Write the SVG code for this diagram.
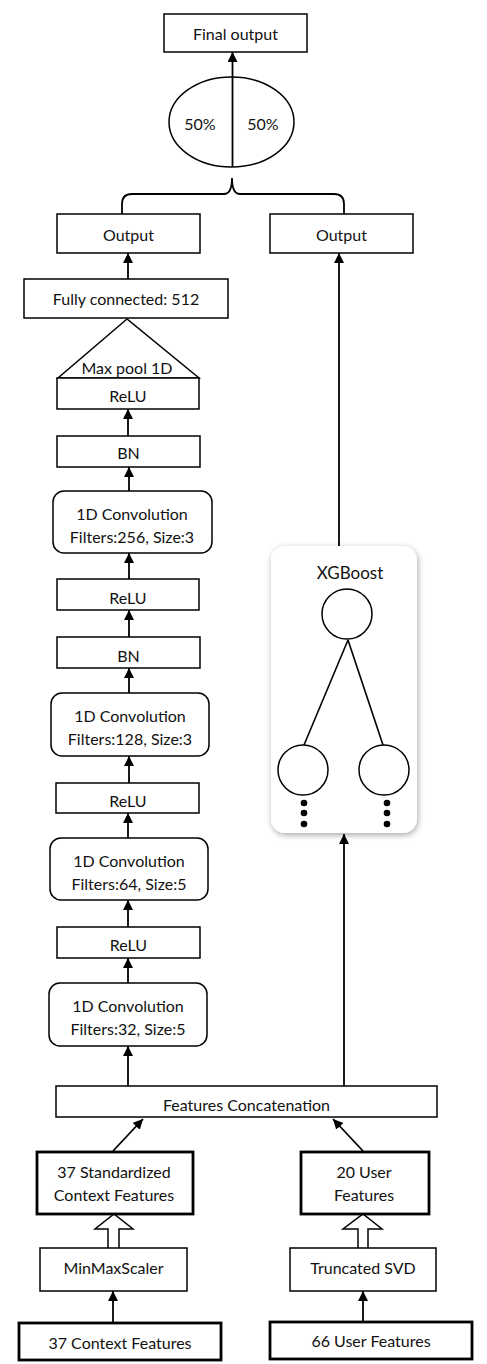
<svg xmlns="http://www.w3.org/2000/svg" width="487" height="1364" viewBox="0 0 487 1364">
<style>
.b{fill:#fff;stroke:#000;stroke-width:1.5}
.tb{fill:#fff;stroke:#000;stroke-width:2.8}
.t{font-family:Lato,"Open Sans",sans-serif;font-size:16px;fill:#111;text-anchor:middle;dominant-baseline:central}
.c{fill:none;stroke:#000;stroke-width:1.8}
.ln{fill:none;stroke:#000;stroke-width:1.8}
</style>
<defs>
<marker id="ah" markerUnits="userSpaceOnUse" markerWidth="10" markerHeight="12" refX="10" refY="5" orient="auto">
<path d="M0,0 L10,5 L0,10 Z" fill="#000"/>
</marker>
<filter id="sh" x="-20%" y="-10%" width="140%" height="120%">
<feGaussianBlur in="SourceAlpha" stdDeviation="3"/>
<feOffset dx="1" dy="2" result="o"/>
<feComponentTransfer><feFuncA type="linear" slope="0.35"/></feComponentTransfer>
<feMerge><feMergeNode/><feMergeNode in="SourceGraphic"/></feMerge>
</filter>
</defs>

<g id="connectors">
<path class="c" d="M232.5,167 V52" marker-end="url(#ah)"/>
<path class="ln" d="M122,214 V204 Q122,194 132,194 H224 Q232,194 232,178 Q232,194 240,194 H334 Q344,194 344,204 V214"/>
<path class="c" d="M128,279 V253" marker-end="url(#ah)"/>
<path class="c" d="M128,436 V409" marker-end="url(#ah)"/>
<path class="c" d="M129,491 V467" marker-end="url(#ah)"/>
<path class="c" d="M129,579 V553" marker-end="url(#ah)"/>
<path class="c" d="M129,637 V610" marker-end="url(#ah)"/>
<path class="c" d="M129,693 V668" marker-end="url(#ah)"/>
<path class="c" d="M129,783 V756" marker-end="url(#ah)"/>
<path class="c" d="M128,838 V813" marker-end="url(#ah)"/>
<path class="c" d="M128,927 V900" marker-end="url(#ah)"/>
<path class="c" d="M128,983 V958" marker-end="url(#ah)"/>
<path class="c" d="M128,1086 V1046" marker-end="url(#ah)"/>
<path class="c" d="M344,1086 V834" marker-end="url(#ah)"/>
<path class="c" d="M339,546 V253" marker-end="url(#ah)"/>
<path class="c" d="M113,1151 L143,1119" marker-end="url(#ah)"/>
<path class="c" d="M363,1151 L333,1119" marker-end="url(#ah)"/>
<path class="c" d="M113,1322 V1291" marker-end="url(#ah)"/>
<path class="c" d="M363,1322 V1291" marker-end="url(#ah)"/>
<path class="b" d="M108,1248 V1229 H95 L114,1214 L133,1229 H119 V1248"/>
<path class="b" d="M358,1248 V1229 H343 L363,1214 L382,1229 H368 V1248"/>
</g>

<g id="final-output"><rect class="b" x="164" y="14" width="143" height="38"/><text class="t" x="235.5" y="33">Final output</text></g>
<g id="weights">
<ellipse class="b" cx="231.5" cy="122" rx="62.5" ry="45"/>
<line x1="232.5" y1="77" x2="232.5" y2="167" stroke="#000" stroke-width="1.8"/>
<text class="t" x="200" y="123">50%</text>
<text class="t" x="263" y="123">50%</text>
</g>
<g id="output-left"><rect class="b" x="57" y="214" width="143" height="39"/><text class="t" x="128.5" y="234">Output</text></g>
<g id="output-right"><rect class="b" x="270" y="214" width="143" height="39"/><text class="t" x="341.5" y="234">Output</text></g>
<g id="fc"><rect class="b" x="24" y="279" width="204" height="39"/><text class="t" x="126" y="298">Fully connected: 512</text></g>
<g id="maxpool"><path class="b" d="M127,319 L58,378 H199 Z"/><text class="t" x="127" y="367">Max pool 1D</text></g>
<g id="relu4"><rect class="b" x="57" y="378" width="142" height="31"/><text class="t" x="128" y="395">ReLU</text></g>
<g id="bn2"><rect class="b" x="57" y="436" width="143" height="31"/><text class="t" x="128.5" y="452">BN</text></g>
<g id="conv256"><rect class="b" x="53" y="491" width="159" height="62" rx="11"/><text class="t" x="132" y="513">1D Convolution</text><text class="t" x="132" y="536">Filters:256, Size:3</text></g>
<g id="relu3"><rect class="b" x="57" y="579" width="142" height="31"/><text class="t" x="128" y="597">ReLU</text></g>
<g id="bn1"><rect class="b" x="57" y="637" width="143" height="31"/><text class="t" x="128.5" y="655">BN</text></g>
<g id="conv128"><rect class="b" x="51" y="693" width="158" height="63" rx="11"/><text class="t" x="130" y="715">1D Convolution</text><text class="t" x="130" y="738">Filters:128, Size:3</text></g>
<g id="relu2"><rect class="b" x="56" y="783" width="143" height="30"/><text class="t" x="128" y="800">ReLU</text></g>
<g id="conv64"><rect class="b" x="50" y="838" width="158" height="62" rx="11"/><text class="t" x="129" y="860">1D Convolution</text><text class="t" x="129" y="883">Filters:64, Size:5</text></g>
<g id="relu1"><rect class="b" x="57" y="927" width="143" height="31"/><text class="t" x="128.5" y="944">ReLU</text></g>
<g id="conv32"><rect class="b" x="49" y="983" width="158" height="63" rx="11"/><text class="t" x="128" y="1005">1D Convolution</text><text class="t" x="128" y="1028">Filters:32, Size:5</text></g>

<g id="xgboost">
<rect x="271" y="546" width="146" height="287" rx="14" fill="#fff" filter="url(#sh)"/>
<text class="t" x="350" y="572" style="font-size:17px">XGBoost</text>
<line x1="348" y1="640" x2="304" y2="745" stroke="#000" stroke-width="1.6"/>
<line x1="348" y1="640" x2="383" y2="745" stroke="#000" stroke-width="1.6"/>
<circle class="b" cx="347" cy="614" r="25"/>
<circle class="b" cx="303" cy="770" r="25"/>
<circle class="b" cx="384" cy="770" r="25"/>
<circle cx="304" cy="803" r="3.3"/><circle cx="304" cy="813" r="3.3"/><circle cx="304" cy="824" r="3.3"/>
<circle cx="387" cy="803" r="3.3"/><circle cx="387" cy="813" r="3.3"/><circle cx="387" cy="824" r="3.3"/>
</g>

<g id="concat"><rect class="b" x="56" y="1086" width="381" height="31"/><text class="t" x="246.5" y="1104">Features Concatenation</text></g>
<g id="std-context"><rect class="tb" x="37" y="1152" width="156" height="62"/><text class="t" x="114" y="1171">37 Standardized</text><text class="t" x="114" y="1194">Context Features</text></g>
<g id="user20"><rect class="tb" x="301" y="1152" width="128" height="62"/><text class="t" x="364" y="1171">20 User</text><text class="t" x="364" y="1194">Features</text></g>
<g id="minmax"><rect class="b" x="40" y="1248" width="147" height="43"/><text class="t" x="113.5" y="1267">MinMaxScaler</text></g>
<g id="svd"><rect class="b" x="290" y="1248" width="146" height="43"/><text class="t" x="363" y="1267">Truncated SVD</text></g>
<g id="context37"><rect class="tb" x="19" y="1323" width="202" height="37"/><text class="t" x="120" y="1342">37 Context Features</text></g>
<g id="user66"><rect class="tb" x="270" y="1322" width="202" height="37"/><text class="t" x="371" y="1340">66 User Features</text></g>
</svg>
